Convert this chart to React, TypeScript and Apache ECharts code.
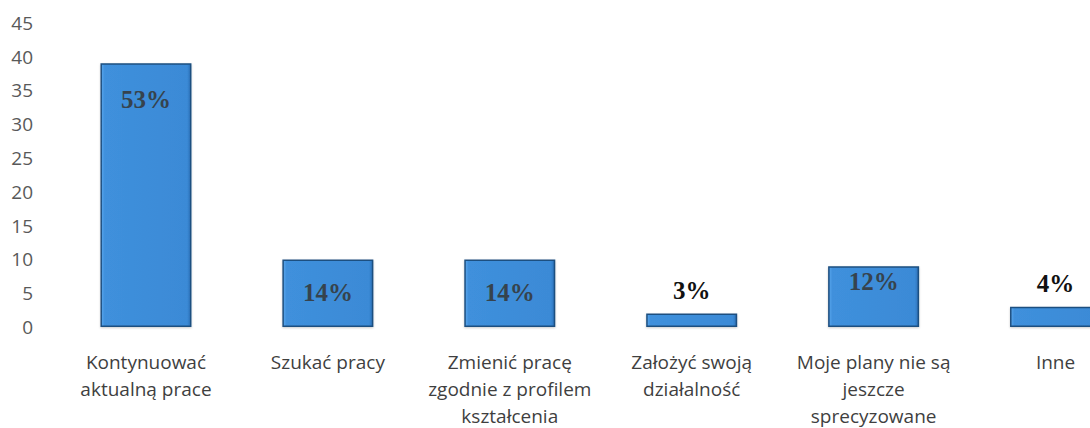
import React, { useEffect, useRef } from "react";
import * as echarts from "echarts";

const categories = [
  "Kontynuować\naktualną prace",
  "Szukać pracy",
  "Zmienić pracę\nzgodnie z profilem\nkształcenia",
  "Założyć swoją\ndziałalność",
  "Moje plany nie są\njeszcze\nsprecyzowane",
  "Inne",
];
const counts = [39, 10, 10, 2, 9, 3];
const percentLabels = ["53%", "14%", "14%", "3%", "12%", "4%"];
const yTicks = { min: 0, max: 45, interval: 5 };

export default function App() {
  const ref = useRef<HTMLDivElement>(null);
  useEffect(() => {
    if (!ref.current) return;
    const chart = echarts.init(ref.current, null, { renderer: "svg" });
    const insideLabel = (distance: number) => ({
      show: true,
      position: "insideTop",
      distance,
      color: "#36434d",
      fontFamily: "Liberation Serif, Times New Roman, serif",
      fontWeight: "bold",
      fontSize: 25,
    });
    const outsideLabel = (distance: number) => ({
      show: true,
      position: "top",
      distance,
      color: "#111111",
      fontFamily: "Liberation Serif, Times New Roman, serif",
      fontWeight: "bold",
      fontSize: 25,
    });
    const labelCfg = [
      insideLabel(24),
      insideLabel(21),
      insideLabel(21),
      outsideLabel(10),
      insideLabel(3),
      outsideLabel(11),
    ];
    chart.setOption({
      animation: false,
      grid: {
        left: 55,
        top: 22.7,
        width: 1091.5,
        height: 304.3,
        containLabel: false,
        outerBoundsMode: "none",
      },
      xAxis: {
        type: "category",
        data: categories,
        axisLine: { show: false },
        axisTick: { show: false },
        axisLabel: {
          interval: 0,
          margin: 21,
          color: "#3f3f3f",
          fontFamily: "Open Sans",
          fontSize: 19,
          lineHeight: 27,
        },
      },
      yAxis: {
        type: "value",
        min: yTicks.min,
        max: yTicks.max,
        interval: yTicks.interval,
        axisLine: { show: false },
        axisTick: { show: false },
        splitLine: { show: false },
        axisLabel: {
          margin: 22,
          color: "#595959",
          fontFamily: "Open Sans",
          fontSize: 19,
        },
      },
      series: [
        {
          type: "bar",
          barWidth: 91,
          data: counts.map((v, i) => ({
            value: v,
            label: { ...labelCfg[i], formatter: () => percentLabels[i] },
          })),
          itemStyle: {
            color: {
              type: "linear",
              x: 0,
              y: 0,
              x2: 1,
              y2: 0,
              colorStops: [
                { offset: 0, color: "#5aa6ec" },
                { offset: 0.04, color: "#3f90dc" },
                { offset: 0.96, color: "#3b8ad6" },
                { offset: 1, color: "#2c70b6" },
              ],
            },
            borderColor: "#1e4f80",
            borderWidth: 1.5,
            shadowColor: "rgba(0,0,0,0.2)",
            shadowBlur: 2,
            shadowOffsetY: 1,
          },
        },
      ],
    });
    return () => chart.dispose();
  }, []);
  return (
    <div
      ref={ref}
      style={{ position: "fixed", left: 0, top: 0, width: 1090, height: 428, background: "#fff" }}
    />
  );
}
